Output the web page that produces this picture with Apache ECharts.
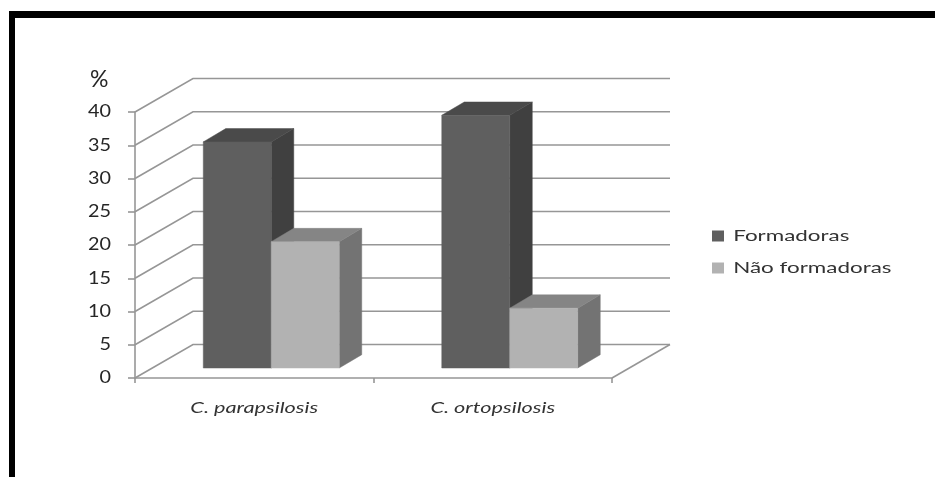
<!DOCTYPE html>
<html>
<head>
<meta charset="utf-8">
<style>html,body{margin:0;padding:0;background:#fff}#chart{width:935px;height:477px}</style>
<script src="https://cdn.jsdelivr.net/npm/echarts@6/dist/echarts.min.js"></script>
</head>
<body>
<div id="chart"></div>
<script>
// Biofilm formation among Candida isolates, drawn as a pseudo-3D clustered column chart.
const categories = ['C. parapsilosis', 'C. ortopsilosis'];
const seriesNames = ['Formadoras', 'Não formadoras'];
const formadoras = [34, 38];
const naoFormadoras = [19, 9];
const yTicks = [0, 5, 10, 15, 20, 25, 30, 35, 40];

// Projection of the chart box: offset from the front plane to the back wall.
const WALL_DX = 58, WALL_DY = -33.5;
// Columns sit part-way into the box and have their own depth.
const BAR_SHIFT_X = 17, BAR_SHIFT_Y = -10;
const BAR_DX = 22.5, BAR_DY = -13.3;
const BAR_BAND_RATIO = 0.285;

const GRID_COLOR = '#969696';
const GRID_WIDTH = 1.6;

function wallLines(params, api) {
  const box = params.coordSys;
  const y = api.coord([0, api.value(0)])[1];
  const left = box.x, right = box.x + box.width;
  const children = [{
    type: 'polyline',
    shape: { points: [[left, y], [left + WALL_DX, y + WALL_DY], [right + WALL_DX, y + WALL_DY]] },
    style: { stroke: GRID_COLOR, lineWidth: GRID_WIDTH, fill: null }
  }];
  if (api.value(0) === 0) {
    children.push({
      type: 'line',
      shape: { x1: right, y1: y, x2: right + WALL_DX, y2: y + WALL_DY },
      style: { stroke: GRID_COLOR, lineWidth: GRID_WIDTH }
    });
  }
  return { type: 'group', children };
}

// Builds a renderItem for one column of a two-column cluster.
function column(slot, front, top, side) {
  return function (params, api) {
    const cat = api.value(0);
    const band = api.size([1, 0])[0];
    const w = band * BAR_BAND_RATIO;
    const head = api.coord([cat, api.value(1)]);
    const foot = api.coord([cat, 0]);
    const x0 = head[0] + BAR_SHIFT_X + (slot === 0 ? -w : 0);
    const x1 = x0 + w;
    const yT = head[1] + BAR_SHIFT_Y;
    const yB = foot[1] + BAR_SHIFT_Y;
    const face = (pts, fill) => ({
      type: 'polygon',
      shape: { points: pts },
      style: { fill, stroke: fill, lineWidth: 0.5 }
    });
    return {
      type: 'group',
      children: [
        face([[x1, yT], [x1 + BAR_DX, yT + BAR_DY], [x1 + BAR_DX, yB + BAR_DY], [x1, yB]], side),
        face([[x0, yT], [x0 + BAR_DX, yT + BAR_DY], [x1 + BAR_DX, yT + BAR_DY], [x1, yT]], top),
        face([[x0, yT], [x1, yT], [x1, yB], [x0, yB]], front)
      ]
    };
  };
}

const chart = echarts.init(document.getElementById('chart'), null, { renderer: 'canvas' });
const FONT = 'Lato, sans-serif';

chart.setOption({
  animation: false,
  backgroundColor: '#fff',
  grid: { left: 135, right: 323, top: 112, bottom: 99, containLabel: false },
  graphic: [
    { type: 'rect', shape: { x: 9, y: 11, width: 926, height: 7 }, style: { fill: '#000' } },
    { type: 'rect', shape: { x: 9, y: 11, width: 6, height: 466 }, style: { fill: '#000' } }
  ],
  title: {
    text: '%', left: 85, top: 63,
    textStyle: { fontFamily: FONT, fontSize: 23, fontWeight: 'normal', color: '#262626' }
  },
  legend: {
    data: seriesNames,
    orient: 'vertical',
    left: 707,
    top: 223,
    itemWidth: 12,
    itemHeight: 11,
    itemGap: 16,
    icon: 'rect',
    textStyle: { fontFamily: FONT, fontSize: 16, color: '#333', padding: [0, 0, 0, 3] }
  },
  xAxis: {
    type: 'category',
    data: categories,
    axisLine: { lineStyle: { color: GRID_COLOR, width: GRID_WIDTH } },
    axisTick: { show: true, alignWithLabel: false, length: 5, lineStyle: { color: GRID_COLOR, width: GRID_WIDTH } },
    axisLabel: { margin: 22, fontFamily: FONT, fontSize: 15.5, fontStyle: 'italic', color: '#333' }
  },
  yAxis: {
    type: 'value',
    min: 0,
    max: 40,
    interval: 5,
    splitLine: { show: false },
    axisLine: { show: true, lineStyle: { color: GRID_COLOR, width: GRID_WIDTH } },
    axisTick: { show: true, length: 7, lineStyle: { color: GRID_COLOR, width: GRID_WIDTH } },
    axisLabel: { margin: 24, fontFamily: FONT, fontSize: 16.5, color: '#262626' }
  },
  series: [
    {
      type: 'custom',
      silent: true,
      z: 1,
      clip: false,
      renderItem: wallLines,
      encode: { y: 0 },
      data: yTicks.map(v => [v])
    },
    {
      name: seriesNames[0],
      type: 'custom',
      z: 2,
      clip: false,
      renderItem: column(0, '#5f5f5f', '#4a4a4a', '#404040'),
      itemStyle: { color: '#5f5f5f' },
      encode: { x: 0, y: 1 },
      data: formadoras.map((v, i) => [i, v])
    },
    {
      name: seriesNames[1],
      type: 'custom',
      z: 3,
      clip: false,
      renderItem: column(1, '#b2b2b2', '#858585', '#737373'),
      itemStyle: { color: '#b2b2b2' },
      encode: { x: 0, y: 1 },
      data: naoFormadoras.map((v, i) => [i, v])
    }
  ]
});

// Labels use a horizontally expanded face: widen each text about its anchor.
function widen(text) {
  if (text === '%') return 1;
  return /^\d+$/.test(text) ? 1.2 : 1.4;
}
const zr = chart.getZr();
zr.storage.getDisplayList(true).forEach(el => {
  const owner = el.parent;
  if (el.type !== 'tspan' || !owner || !owner.style || owner.style.text == null) return;
  owner.scaleX = widen(String(owner.style.text));
  owner.originX = owner.style.x || 0;
  owner.markRedraw();
});
zr.refresh();
</script>
</body>
</html>
